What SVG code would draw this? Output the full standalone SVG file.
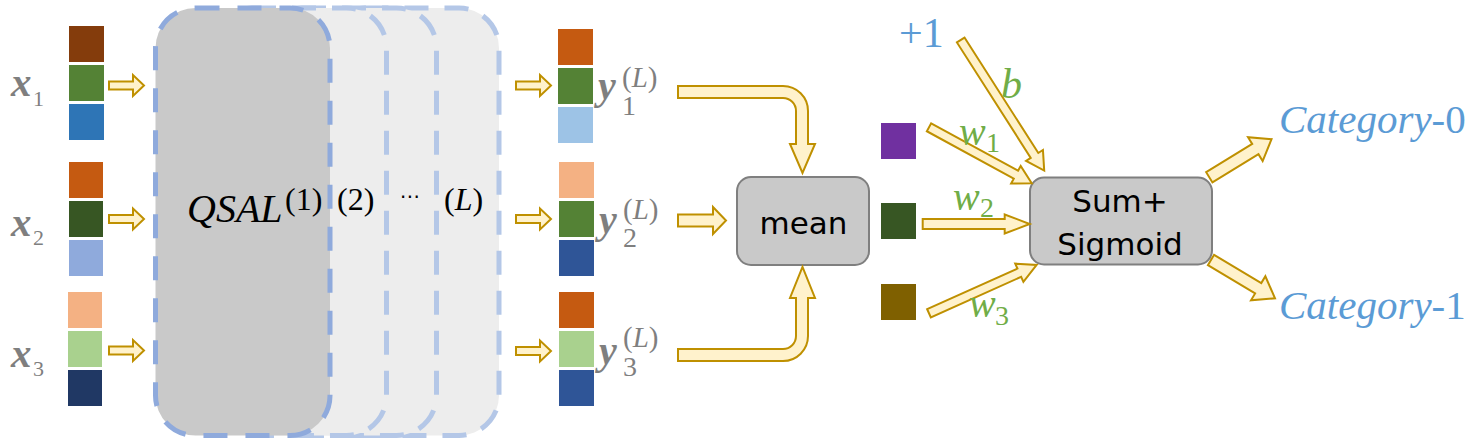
<svg xmlns="http://www.w3.org/2000/svg" width="1481" height="439" viewBox="0 0 1481 439">
<style>
.arr{fill:#FFF2CC;stroke:#BF9000;stroke-width:2;stroke-linejoin:miter}
.lbl{font-family:"Liberation Serif","DejaVu Serif",serif;font-style:italic;font-weight:bold;fill:#7F7F7F}
.sub{font-family:"Liberation Serif","DejaVu Serif",serif;font-style:normal;font-weight:normal;fill:#7F7F7F}
.math{font-family:"Liberation Serif","DejaVu Serif",serif;fill:#000}
.sans{font-family:"DejaVu Sans","Noto Sans",sans-serif;fill:#000;font-size:31px;text-anchor:middle}
.green{font-family:"Liberation Serif","DejaVu Serif",serif;fill:#70AD47}
.blue{font-family:"Liberation Serif","DejaVu Serif",serif;fill:#5B9BD5}
.box{fill:#C9C9C9;stroke:#7F7F7F;stroke-width:2}
.layerL{fill:#EDEDED;stroke:#B4C7E7;stroke-width:5;stroke-dasharray:24 16}
.layer1{fill:#C9C9C9;stroke:#8FAADC;stroke-width:5;stroke-dasharray:24 18}
</style>
<defs>
<path id="sa" d="M0,-4 H24 V-10.5 L35,0 L24,10.5 V4 H0 Z"/>
</defs>

<g id="qsal-layers">
<rect class="layerL" x="324.5" y="8" width="174.5" height="427.5" rx="40"/>
<rect class="layerL" x="262" y="8" width="174.5" height="427.5" rx="40"/>
<rect class="layerL" x="212" y="8" width="174.5" height="427.5" rx="40"/>
<rect class="layer1" x="155.5" y="8" width="174.5" height="427.5" rx="40"/>
<text class="math" x="187" y="222" font-size="40" font-style="italic">QSAL</text>
<text class="math" x="285" y="210" font-size="32">(1)</text>
<text class="math" x="337" y="210" font-size="32">(2)</text>
<text x="400" y="203" font-family="DejaVu Sans, sans-serif" font-size="20" fill="#000">⋯</text>
<text class="math" x="444" y="210" font-size="32">(<tspan font-style="italic">L</tspan>)</text>
</g>

<g id="x1">
<rect x="69" y="26" width="35" height="36" fill="#843C0C"/>
<rect x="69" y="65" width="35" height="36" fill="#548235"/>
<rect x="69" y="104" width="35" height="36" fill="#2E75B6"/>
<text class="lbl" x="11" y="96" font-size="41">x</text>
<text class="sub" x="33" y="106" font-size="22">1</text>
</g>
<g id="x2">
<rect x="69" y="162" width="34" height="36" fill="#C55A11"/>
<rect x="69" y="201" width="34" height="36" fill="#375623"/>
<rect x="69" y="240" width="34" height="36" fill="#8FAADC"/>
<text class="lbl" x="11" y="236" font-size="41">x</text>
<text class="sub" x="33" y="245" font-size="22">2</text>
</g>
<g id="x3">
<rect x="68" y="292" width="34" height="36" fill="#F4B183"/>
<rect x="68" y="331" width="34" height="36" fill="#A9D18E"/>
<rect x="68" y="370" width="34" height="36" fill="#203864"/>
<text class="lbl" x="11" y="367" font-size="41">x</text>
<text class="sub" x="33" y="376" font-size="22">3</text>
</g>

<g id="y1">
<rect x="558" y="29" width="35" height="36" fill="#C55A11"/>
<rect x="558" y="68" width="35" height="36" fill="#548235"/>
<rect x="558" y="107" width="35" height="36" fill="#9DC3E6"/>
<text class="lbl" x="598" y="99" font-size="40">y</text>
<text class="sub" x="622" y="115" font-size="28">1</text>
<text class="sub" x="622" y="87" font-size="29">(<tspan font-style="italic">L</tspan>)</text>
</g>
<g id="y2">
<rect x="559" y="162" width="35" height="36" fill="#F4B183"/>
<rect x="559" y="201" width="35" height="36" fill="#548235"/>
<rect x="559" y="240" width="35" height="36" fill="#2F5597"/>
<text class="lbl" x="599" y="233" font-size="40">y</text>
<text class="sub" x="623" y="247" font-size="28">2</text>
<text class="sub" x="623" y="219" font-size="29">(<tspan font-style="italic">L</tspan>)</text>
</g>
<g id="y3">
<rect x="559" y="292" width="35" height="36" fill="#C55A11"/>
<rect x="559" y="331" width="35" height="36" fill="#A9D18E"/>
<rect x="559" y="370" width="35" height="36" fill="#2F5597"/>
<text class="lbl" x="599" y="364" font-size="40">y</text>
<text class="sub" x="623" y="376" font-size="28">3</text>
<text class="sub" x="623" y="347" font-size="29">(<tspan font-style="italic">L</tspan>)</text>
</g>

<g id="mean">
<rect class="box" x="737" y="177" width="132" height="88" rx="14"/>
<text class="sans" x="803.5" y="234">mean</text>
</g>

<g id="w-inputs">
<rect x="881" y="123" width="35" height="36" fill="#7030A0"/>
<rect x="881" y="203" width="35" height="36" fill="#375623"/>
<rect x="881" y="284" width="35" height="36" fill="#7F6000"/>
</g>

<g id="bias">
<text class="blue" x="899" y="47" font-size="42">+1</text>
</g>

<g id="sum">
<rect class="box" x="1030" y="177.5" width="182" height="87" rx="14"/>
<text class="sans" x="1120" y="212">Sum+</text>
<text class="sans" x="1120" y="255">Sigmoid</text>
</g>

<g id="cat0">
<text class="blue" x="1279" y="133" font-size="41"><tspan font-style="italic">Category</tspan>-0</text>
</g>
<g id="cat1">
<text class="blue" x="1279" y="319" font-size="41"><tspan font-style="italic">Category</tspan>-1</text>
</g>

<g id="connectors">
<use href="#sa" class="arr" x="109" y="85.5"/>
<use href="#sa" class="arr" x="109" y="219"/>
<use href="#sa" class="arr" x="109" y="350.5"/>
<use href="#sa" class="arr" x="516" y="85.5"/>
<use href="#sa" class="arr" x="516" y="219"/>
<use href="#sa" class="arr" x="516" y="351"/>
<path class="arr" d="M678,86 H783 A25,25 0 0 1 808,111 V144 H815 L802.5,173 L790,144 H796 V111 A13,13 0 0 0 783,98 H678 Z"/>
<path class="arr" d="M678,361 H783 A25,25 0 0 0 808,336 V298 H815 L802.5,267 L790,298 H796 V336 A13,13 0 0 1 783,349 H678 Z"/>
<path class="arr" d="M678,-6 H713 V-13.5 L726,0 L713,13.5 V6 H678 Z" transform="translate(0,220.5)"/>
<path class="arr" transform="translate(960.7,40) rotate(57.4)" d="M0,-4.5 H137 V-10 L155,0 L137,10 V4.5 H0 Z"/>
<path class="arr" transform="translate(929,127.3) rotate(28.6)" d="M0,-4.5 H99 V-10 L117,0 L99,10 V4.5 H0 Z"/>
<path class="arr" transform="translate(922.7,224)" d="M0,-5 H82 V-9.5 L107,0 L82,9.5 V5 H0 Z"/>
<path class="arr" transform="translate(929,313.3) rotate(-24.2)" d="M0,-4.5 H99 V-10 L118,0 L99,10 V4.5 H0 Z"/>
<path class="arr" transform="translate(1209.3,177.3) rotate(-31.5)" d="M0,-6 H54 V-14 L73,0 L54,14 V6 H0 Z"/>
<path class="arr" transform="translate(1211,260) rotate(30.9)" d="M0,-6 H55 V-14 L74.6,0 L55,14 V6 H0 Z"/>
</g>

<g id="weights">
<text class="green" x="1001" y="98" font-size="42" font-style="italic">b</text>
<text class="green" x="959" y="145" font-size="40" font-style="italic">w</text>
<text class="green" x="986" y="152" font-size="28">1</text>
<text class="green" x="953" y="210" font-size="40" font-style="italic">w</text>
<text class="green" x="980" y="217" font-size="28">2</text>
<text class="green" x="969" y="317" font-size="40" font-style="italic">w</text>
<text class="green" x="995" y="325" font-size="28">3</text>
</g>
</svg>
